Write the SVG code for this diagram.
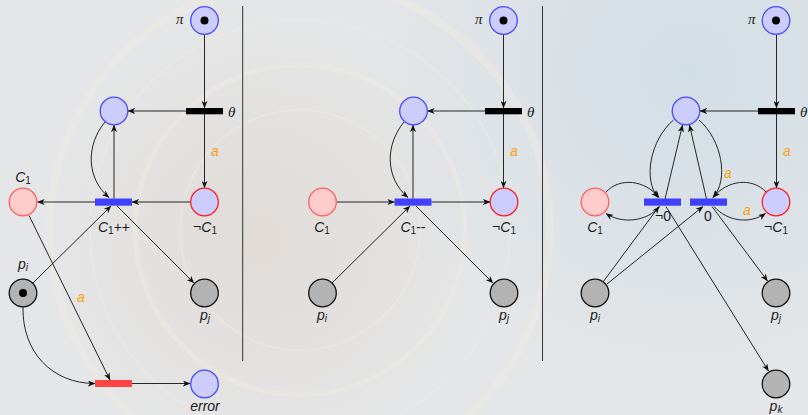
<svg xmlns="http://www.w3.org/2000/svg" width="808" height="415" viewBox="0 0 808 415">
  <defs>
    <marker id="ah" viewBox="0 0 10 8" refX="9.5" refY="4" markerWidth="7.5" markerHeight="6" markerUnits="userSpaceOnUse" orient="auto">
      <path d="M0,0 L10,4 L0,8 L2.8,4 Z" fill="#111"/>
    </marker>
    <radialGradient id="warm" cx="260" cy="240" r="220" gradientUnits="userSpaceOnUse">
      <stop offset="0" stop-color="#dcd2ca" stop-opacity="0.55"/>
      <stop offset="1" stop-color="#dcd2ca" stop-opacity="0"/>
    </radialGradient>
    <radialGradient id="cool" cx="690" cy="70" r="330" gradientUnits="userSpaceOnUse">
      <stop offset="0" stop-color="#d2dee7" stop-opacity="1"/>
      <stop offset="1" stop-color="#d2dee7" stop-opacity="0"/>
    </radialGradient>
    <style>
      .pl-blue { fill: #ccccff; stroke: #4a4aff; stroke-width: 1.3; }
      .pl-neg  { fill: #ccccff; stroke: #ff1f1f; stroke-width: 1.3; }
      .pl-pos  { fill: #ffcccc; stroke: #ff6060; stroke-width: 1.3; }
      .pl-gray { fill: #b3b3b3; stroke: #111111; stroke-width: 1.3; }
      .tr-blue { fill: #4040ff; }
      .tr-red  { fill: #ff4444; }
      .tr-blk  { fill: #000000; }
      .tok     { fill: #000000; }
      .arc     { fill: none; stroke: #111111; stroke-width: 0.9; marker-end: url(#ah); }
      .div     { stroke: #333333; stroke-width: 1; }
      .lbl     { font-family: "Liberation Sans", Arial, sans-serif; font-size: 14px; fill: #1a1a1a; text-anchor: middle; }
      .it      { font-style: italic; }
      .sub     { font-size: 10px; }
      .greek   { font-family: "Liberation Serif", "Times New Roman", serif; font-size: 15px; font-style: italic; fill: #1a1a1a; }
      .wt      { font-family: "Liberation Sans", Arial, sans-serif; font-size: 14px; font-style: italic; fill: #ff9f0f; }
      .ring    { fill: none; stroke: #f0ece2; opacity: 0.45; }
    </style>
  </defs>

  <!-- faded backdrop: pale clock dial -->
  <g id="backdrop">
    <rect width="808" height="415" fill="#e5e6e7"/>
    <rect width="808" height="415" fill="url(#cool)"/>
    <rect width="808" height="415" fill="url(#warm)"/>
    <circle class="ring" cx="300" cy="230" r="120" stroke-width="2"/>
    <circle class="ring" cx="300" cy="230" r="165" stroke-width="5"/>
    <circle class="ring" cx="300" cy="230" r="210" stroke-width="2"/>
    <circle class="ring" cx="300" cy="230" r="250" stroke-width="8"/>
  </g>

  <!-- panel separators -->
  <g id="separators">
    <line class="div" x1="242.7" y1="6" x2="242.7" y2="361"/>
    <line class="div" x1="542.5" y1="6" x2="542.5" y2="361"/>
  </g>

  <!-- connectors -->
  <g id="connectors">
    <!-- increment net -->
    <path class="arc" d="M204.5,34.5 V108"/>
    <path class="arc" d="M186,111 H128"/>
    <path class="arc" d="M204.5,114 V188"/>
    <path class="arc" d="M190.5,202 H132"/>
    <path class="arc" d="M95,202 H37.5"/>
    <path class="arc" d="M114,198.5 V125"/>
    <path class="arc" d="M105,122 C86,145 86,178 109,197.5"/>
    <path class="arc" d="M33,283 L111,206"/>
    <path class="arc" d="M117,206 L194,283"/>
    <path class="arc" d="M29,215.5 L110,380"/>
    <path class="arc" d="M23,307 C22,352 52,383.5 95,383.5"/>
    <path class="arc" d="M132,383.5 H190"/>

    <!-- decrement net -->
    <path class="arc" d="M503.5,34.5 V108"/>
    <path class="arc" d="M485,111 H427.5"/>
    <path class="arc" d="M503.5,114 V188"/>
    <path class="arc" d="M336.5,202 H394.5"/>
    <path class="arc" d="M431.5,202 H490"/>
    <path class="arc" d="M413,198.5 V125"/>
    <path class="arc" d="M404,122 C385,145 385,178 408,197.5"/>
    <path class="arc" d="M332,283 L410,206"/>
    <path class="arc" d="M416,206 L493,283"/>

    <!-- zero-test net -->
    <path class="arc" d="M776.5,34.5 V108"/>
    <path class="arc" d="M758,111 H700"/>
    <path class="arc" d="M776.5,114 V188"/>
    <path class="arc" d="M673.5,120 C650,140 643,180 658,197.5"/>
    <path class="arc" d="M699,120 C722,140 729,180 713,197.5"/>
    <path class="arc" d="M665,199 L682.5,125"/>
    <path class="arc" d="M706.5,199 L689.5,125"/>
    <path class="arc" d="M606,192 C620,177 645,180 659,197.5"/>
    <path class="arc" d="M660,206.5 C646,222 622,224 606,213.5"/>
    <path class="arc" d="M766,192 C752,177 727,180 713,197.5"/>
    <path class="arc" d="M714,206.5 C728,222 750,224 765.5,213.5"/>
    <path class="arc" d="M603,282 L659,206.5"/>
    <path class="arc" d="M607,284 L703,206.5"/>
    <path class="arc" d="M666,206.5 L768.5,371"/>
    <path class="arc" d="M712,206.5 L767.5,281"/>
  </g>

  <!-- arc weights -->
  <g id="weights">
    <text class="wt" x="211" y="156">a</text>
    <text class="wt" x="77" y="302">a</text>
    <text class="wt" x="510" y="156">a</text>
    <text class="wt" x="783" y="156">a</text>
    <text class="wt" x="724" y="178">a</text>
    <text class="wt" x="743" y="215">a</text>
  </g>

  <!-- increment net nodes -->
  <g id="inc-pi">
    <circle class="pl-blue" cx="204.5" cy="20.5" r="13.8"/>
    <circle class="tok" cx="204.5" cy="20.5" r="4"/>
    <text class="greek" x="176" y="24">π</text>
  </g>
  <g id="inc-theta">
    <rect class="tr-blk" x="186" y="108" width="37" height="6.3"/>
    <text class="greek" x="228" y="117">θ</text>
  </g>
  <g id="inc-ctrl">
    <circle class="pl-blue" cx="114" cy="111" r="13.8"/>
  </g>
  <g id="inc-c1">
    <circle class="pl-pos" cx="23" cy="202" r="13.8"/>
    <text class="lbl" x="23" y="182"><tspan class="it">C</tspan><tspan class="sub" dy="2">1</tspan></text>
  </g>
  <g id="inc-notc1">
    <circle class="pl-neg" cx="204.5" cy="202" r="13.8"/>
    <text class="lbl" x="205" y="232">¬<tspan class="it">C</tspan><tspan class="sub" dy="2">1</tspan></text>
  </g>
  <g id="inc-t">
    <rect class="tr-blue" x="95" y="198.5" width="37" height="7.2"/>
    <text class="lbl" x="114" y="232"><tspan class="it">C</tspan><tspan class="sub" dy="2">1</tspan><tspan dy="-2">++</tspan></text>
  </g>
  <g id="inc-pi-place">
    <circle class="pl-gray" cx="23" cy="293" r="13.8"/>
    <circle class="tok" cx="23" cy="293" r="4"/>
    <text class="lbl" x="23" y="269"><tspan class="it">p</tspan><tspan class="sub it" dy="2">i</tspan></text>
  </g>
  <g id="inc-pj">
    <circle class="pl-gray" cx="204.5" cy="293" r="13.8"/>
    <text class="lbl" x="205" y="320"><tspan class="it">p</tspan><tspan class="sub it" dy="2">j</tspan></text>
  </g>
  <g id="inc-fail">
    <rect class="tr-red" x="95" y="380" width="37" height="7"/>
  </g>
  <g id="inc-error">
    <circle class="pl-blue" cx="204.5" cy="384" r="13.8"/>
    <text class="lbl it" x="205" y="411">error</text>
  </g>

  <!-- decrement net nodes -->
  <g id="dec-pi">
    <circle class="pl-blue" cx="503.5" cy="20.5" r="13.8"/>
    <circle class="tok" cx="503.5" cy="20.5" r="4"/>
    <text class="greek" x="475" y="24">π</text>
  </g>
  <g id="dec-theta">
    <rect class="tr-blk" x="485" y="108" width="37" height="6.3"/>
    <text class="greek" x="527" y="117">θ</text>
  </g>
  <g id="dec-ctrl">
    <circle class="pl-blue" cx="413.5" cy="111" r="13.8"/>
  </g>
  <g id="dec-c1">
    <circle class="pl-pos" cx="322.5" cy="202" r="13.8"/>
    <text class="lbl" x="322" y="232"><tspan class="it">C</tspan><tspan class="sub" dy="2">1</tspan></text>
  </g>
  <g id="dec-notc1">
    <circle class="pl-neg" cx="504" cy="202" r="13.8"/>
    <text class="lbl" x="504" y="232">¬<tspan class="it">C</tspan><tspan class="sub" dy="2">1</tspan></text>
  </g>
  <g id="dec-t">
    <rect class="tr-blue" x="394.5" y="198.5" width="37" height="7.2"/>
    <text class="lbl" x="413" y="232"><tspan class="it">C</tspan><tspan class="sub" dy="2">1</tspan><tspan dy="-2">--</tspan></text>
  </g>
  <g id="dec-pi-place">
    <circle class="pl-gray" cx="322.5" cy="293" r="13.8"/>
    <text class="lbl" x="322" y="320"><tspan class="it">p</tspan><tspan class="sub it" dy="2">i</tspan></text>
  </g>
  <g id="dec-pj">
    <circle class="pl-gray" cx="504" cy="293" r="13.8"/>
    <text class="lbl" x="504" y="320"><tspan class="it">p</tspan><tspan class="sub it" dy="2">j</tspan></text>
  </g>

  <!-- zero-test net nodes -->
  <g id="zt-pi">
    <circle class="pl-blue" cx="776" cy="20.5" r="13.8"/>
    <circle class="tok" cx="776" cy="20.5" r="4"/>
    <text class="greek" x="748" y="24">π</text>
  </g>
  <g id="zt-theta">
    <rect class="tr-blk" x="758" y="108" width="37" height="6.3"/>
    <text class="greek" x="800" y="117">θ</text>
  </g>
  <g id="zt-ctrl">
    <circle class="pl-blue" cx="686" cy="111" r="13.8"/>
  </g>
  <g id="zt-c1">
    <circle class="pl-pos" cx="595" cy="202" r="13.8"/>
    <text class="lbl" x="595" y="232"><tspan class="it">C</tspan><tspan class="sub" dy="2">1</tspan></text>
  </g>
  <g id="zt-notc1">
    <circle class="pl-neg" cx="776" cy="202" r="13.8"/>
    <text class="lbl" x="776" y="232">¬<tspan class="it">C</tspan><tspan class="sub" dy="2">1</tspan></text>
  </g>
  <g id="zt-nonzero">
    <rect class="tr-blue" x="644" y="198.5" width="37" height="7.2"/>
    <text class="lbl" x="663" y="221">¬0</text>
  </g>
  <g id="zt-zero">
    <rect class="tr-blue" x="690" y="198.5" width="37" height="7.2"/>
    <text class="lbl" x="708" y="221">0</text>
  </g>
  <g id="zt-pi-place">
    <circle class="pl-gray" cx="595" cy="293" r="13.8"/>
    <text class="lbl" x="595" y="320"><tspan class="it">p</tspan><tspan class="sub it" dy="2">i</tspan></text>
  </g>
  <g id="zt-pj">
    <circle class="pl-gray" cx="776" cy="293" r="13.8"/>
    <text class="lbl" x="776" y="320"><tspan class="it">p</tspan><tspan class="sub it" dy="2">j</tspan></text>
  </g>
  <g id="zt-pk">
    <circle class="pl-gray" cx="776" cy="384" r="13.8"/>
    <text class="lbl" x="776" y="411"><tspan class="it">p</tspan><tspan class="sub it" dy="2">k</tspan></text>
  </g>
</svg>
